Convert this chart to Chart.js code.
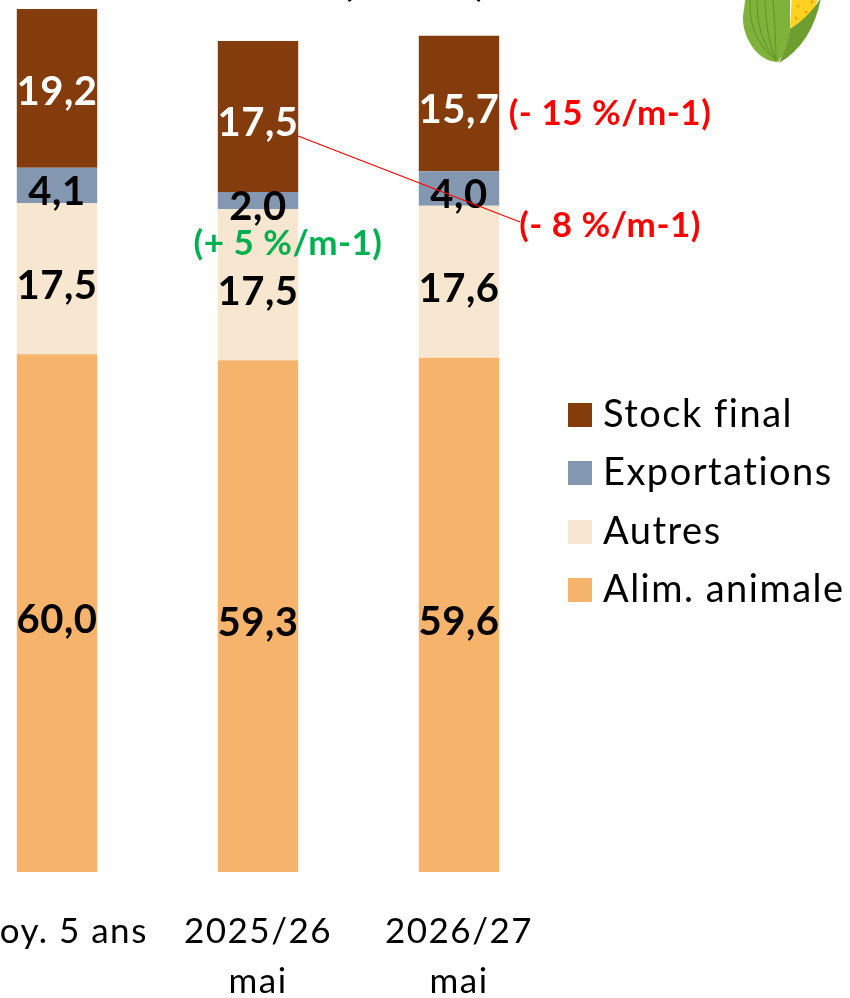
<!DOCTYPE html>
<html lang="fr"><head><meta charset="utf-8">
<script src="https://cdn.jsdelivr.net/npm/chart.js@4"></script>
<style>html,body{margin:0;padding:0;background:#fff;width:850px;height:998px;overflow:hidden}
#c{position:absolute;left:-100px;top:-60px}</style></head>
<body><canvas id="c" width="950" height="1058"></canvas>
<script>
const categories=[["Moy. 5 ans"],["2025/26","mai"],["2026/27","mai"]];
const alimAnimale=[60.0,59.3,59.6];
const autres=[17.5,17.5,17.6];
const exportations=[4.1,2.0,4.0];
const stockFinal=[19.2,17.5,15.7];
const seriesNames=["Alim. animale","Autres","Exportations","Stock final"];
const seriesColors=["#F5B36B","#F8E7D0","#8497B0","#843C0C"];
const labelColors=["#000","#000","#000","#fff"];
const titleText="(en Mt)";
const notes=[
 {text:"(- 15 %/m-1)",color:"#FF0000",x:610,y:114},
 {text:"(- 8 %/m-1)",color:"#FF0000",x:610,y:226},
 {text:"(+ 5 %/m-1)",color:"#00B050",x:288,y:244}];
const OX=100,OY=60;
const SANS="Lato, 'Open Sans', sans-serif";
function swatch(col){const s=document.createElement('canvas');s.width=24;s.height=24;const g=s.getContext('2d');g.fillStyle=col;g.fillRect(0,0,24,24);return s;}
const fr=v=>v.toFixed(1).replace('.',',');
const extras={id:'extras',
 beforeUpdate(chart){chart.ctx.letterSpacing='1.5px';},
 beforeDraw(chart){chart.ctx.letterSpacing='1.5px';},
 afterLayout(chart){const l=chart.legend;const w=l.width,h=l.height;l.left=555.5+OX;l.right=l.left+w;l.top=375+OY;l.bottom=l.top+h;},
 afterDatasetsDraw(chart){const ctx=chart.ctx;ctx.save();
  // value labels
  ctx.letterSpacing='0.5px';
  ctx.textAlign='center';ctx.textBaseline='middle';ctx.font="700 40px "+SANS;
  chart.data.datasets.forEach((ds,i)=>{chart.getDatasetMeta(i).data.forEach((bar,j)=>{
    const p=bar.getProps(['x','y','base'],true);ctx.fillStyle=labelColors[i];
    ctx.fillText(fr(ds.data[j]),p.x,(p.y+p.base)/2+7);});});
  // connector
  ctx.strokeStyle='#FF0000';ctx.lineWidth=1.2;ctx.beginPath();ctx.moveTo(298+OX,136+OY);ctx.lineTo(520+OX,222+OY);ctx.stroke();
  // notes
  ctx.font="700 35px "+SANS;
  notes.forEach(n=>{ctx.fillStyle=n.color;ctx.fillText(n.text,n.x+OX,n.y+OY);});
  // clipped title
  ctx.letterSpacing='0px';
  ctx.font="500 47px "+SANS;ctx.fillStyle='#000';ctx.textBaseline='alphabetic';ctx.fillText(titleText,414+OX,-5+OY);
  // corn
  ctx.translate(OX,OY);
  ctx.fillStyle='#FFD21F';ctx.beginPath();ctx.moveTo(792,-6);ctx.lineTo(820,-6);ctx.lineTo(812,14);ctx.lineTo(790,29);ctx.closePath();ctx.fill();
  ctx.fillStyle='#F2A60F';for(const [a,b] of [[798,6],[806,12],[796,18],[812,2]]){ctx.beginPath();ctx.arc(a,b,1.6,0,7);ctx.fill();}
  ctx.fillStyle='#6E9E2F';ctx.beginPath();ctx.moveTo(790,29);ctx.quadraticCurveTo(808,18,821,-2);ctx.quadraticCurveTo(812,44,779,63);ctx.quadraticCurveTo(786,48,790,29);ctx.closePath();ctx.fill();
  ctx.fillStyle='#7FB23A';ctx.beginPath();ctx.moveTo(746,-6);ctx.lineTo(790,-6);ctx.lineTo(790,29);ctx.quadraticCurveTo(788,50,778,62);ctx.bezierCurveTo(758,62,742,38,743,16);ctx.closePath();ctx.fill();
  ctx.strokeStyle='#5F9428';ctx.lineWidth=1;for(const [a,c] of [[750,748],[757,756],[765,766],[773,776]]){ctx.beginPath();ctx.moveTo(a,0);ctx.quadraticCurveTo(c,38,776,60);ctx.stroke();}
  ctx.restore();}
};
const series=[alimAnimale,autres,exportations,stockFinal];
new Chart(document.getElementById('c'),{type:'bar',
 data:{labels:categories,datasets:series.map((d,i)=>({label:seriesNames[i],data:d,backgroundColor:seriesColors[i],borderWidth:0,barPercentage:0.4,categoryPercentage:1}))},
 options:{responsive:false,animation:false,devicePixelRatio:1,
  layout:{padding:{left:56.5,right:290.5,top:69,bottom:0}},
  plugins:{tooltip:{enabled:false},title:{display:false},
   legend:{position:'chartArea',align:'start',reverse:true,labels:{usePointStyle:true,pointStyleWidth:8,
     generateLabels(chart){const it=Chart.defaults.plugins.legend.labels.generateLabels(chart);it.forEach((x,i)=>{x.pointStyle=swatch(seriesColors[i]);});return it;},
     color:'#000',padding:20.5,font:{family:SANS,size:38,lineHeight:1.2}}}},
  scales:{
   x:{stacked:true,grid:{display:false},border:{display:false},afterFit(s){s.height=126;},
      ticks:{color:'#000',padding:26,autoSkip:false,maxRotation:0,minRotation:0,font:{family:SANS,size:35,lineHeight:1.45}}},
   y:{stacked:true,display:false,min:0,max:100}}},
 plugins:[extras]});
</script></body></html>
